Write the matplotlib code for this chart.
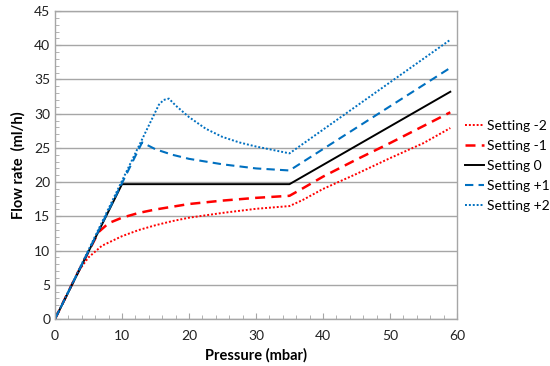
import matplotlib
matplotlib.use('Agg')
import matplotlib.pyplot as plt
from matplotlib.ticker import MultipleLocator

plt.rcParams['font.family'] = ['Lato', 'DejaVu Sans']

# Values (pressure in mbar, flow in ml/h)
x_m2 = [0, 2, 3.5, 5, 7, 10, 12.5, 15, 17.5, 20, 25, 30, 35, 37, 40, 45, 50, 55, 59]
y_m2 = [0, 4, 7, 9.0, 10.7, 12.1, 13.0, 13.7, 14.3, 14.8, 15.5, 16.1, 16.5, 17.4, 19.0, 21.2, 23.5, 25.7, 27.9]

x_m1 = [0, 3, 6.5, 8, 10, 12.5, 15, 20, 25, 30, 35, 37, 40, 45, 50, 55, 59]
y_m1 = [0, 6, 12.7, 14.0, 14.8, 15.5, 16.0, 16.8, 17.3, 17.7, 18.0, 19.1, 20.8, 23.3, 25.7, 28.2, 30.2]

x_0 = [0, 10, 35, 59]
y_0 = [0, 19.7, 19.7, 33.2]

x_p1 = [0, 13, 15, 17.5, 20, 25, 30, 35, 59]
y_p1 = [0, 25.8, 24.8, 24.0, 23.4, 22.6, 22.0, 21.7, 36.7]

x_p2 = [0, 15.5, 16.2, 17, 18, 20, 22.5, 25, 27.5, 30, 35, 59]
y_p2 = [0, 31.3, 32.0, 32.2, 31.2, 29.5, 27.8, 26.6, 25.8, 25.2, 24.2, 40.8]

labels = ['Setting -2', 'Setting -1', 'Setting 0', 'Setting +1', 'Setting +2']

red = '#ff0000'
blue = '#0070c0'

fig = plt.figure(figsize=(5.5, 3.66), dpi=100)
ax = fig.add_axes([55/550, 1 - 319/366, (457-55)/550, (319-11)/366])

ax.plot(x_m2, y_m2, color=red, linestyle=(0, (1, 1)), lw=1.4, label=labels[0])
ax.plot(x_m1, y_m1, color=red, linestyle=(0, (4, 2.5)), lw=1.8, label=labels[1])
ax.plot(x_0, y_0, color='k', linestyle='-', lw=1.4, label=labels[2])
ax.plot(x_p1, y_p1, color=blue, linestyle=(0, (4, 2.5)), lw=1.5, label=labels[3])
ax.plot(x_p2, y_p2, color=blue, linestyle=(0, (1, 1)), lw=1.4, label=labels[4])

ax.set_xlim(0, 60)
ax.set_ylim(0, 45)
ax.xaxis.set_major_locator(MultipleLocator(10))
ax.xaxis.set_minor_locator(MultipleLocator(2))
ax.yaxis.set_major_locator(MultipleLocator(5))
ax.yaxis.set_minor_locator(MultipleLocator(1))
ax.yaxis.grid(True, color='#a6a6a6', lw=1)
ax.set_axisbelow(True)
for s in ax.spines.values():
    s.set_color('#a6a6a6')
    s.set_linewidth(1)
ax.tick_params(which='both', direction='in', color='#a6a6a6', labelsize=10,
               labelcolor='#222222')
ax.tick_params(which='major', length=4)
ax.tick_params(which='minor', length=3)
ax.tick_params(axis='x', pad=8)

ax.set_xlabel('Pressure (mbar)', fontweight='bold', fontsize=10.5, labelpad=4)
ax.set_ylabel('Flow rate  (ml/h)', fontweight='bold', fontsize=10.5, labelpad=6)

fig.legend(loc='upper left', bbox_to_anchor=(465/550, 1 - 120/366), frameon=False,
           fontsize=10, handlelength=1.4, handletextpad=0.2, labelspacing=0.58,
           borderaxespad=0, borderpad=0)

fig.savefig('out.png', dpi=100)
